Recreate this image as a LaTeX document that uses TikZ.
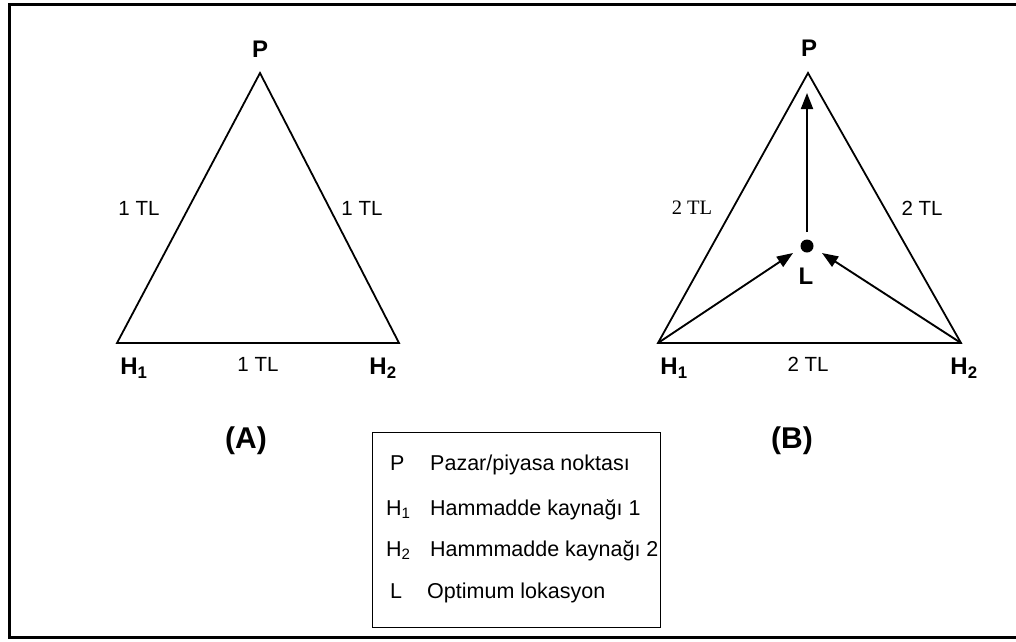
\documentclass[tikz,border=0pt]{standalone}
\usepackage{fontspec}
\setmainfont{Liberation Sans}
\newfontfamily\serifTL{Liberation Serif}
\usetikzlibrary{arrows.meta}
\tikzset{
  edge/.style={line width=1.8pt, line join=miter},
  flow/.style={line width=1.9pt, -{Triangle[length=16pt,width=12pt]}},
  lbl/.style={font=\fontsize{20.5}{24}\selectfont, inner sep=0pt},
  vlbl/.style={font=\fontsize{24}{28}\selectfont\bfseries, inner sep=0pt},
  figcap/.style={font=\fontsize{30}{34}\selectfont\bfseries, inner sep=0pt},
  leg/.style={font=\fontsize{21.5}{25}\selectfont, inner sep=0pt, anchor=base west},
}
\begin{document}
\begin{tikzpicture}[x=1pt,y=-1pt]
\useasboundingbox (0,0) rectangle (1016,641);
% outer frame
\draw[line width=3pt] (9,4) -- (1030,4) -- (1030,637) -- (9,637) -- cycle;

% Triangle A
\coordinate (AP) at (260,73);
\coordinate (AH1) at (117,343);
\coordinate (AH2) at (399,343);
\draw[edge] (AP) -- (AH1) -- (AH2) -- cycle;
\node[vlbl] (APl) at (260,49) {P};
\node[vlbl] (AH1l) at (134,368) {H\textsubscript{1}};
\node[vlbl] (AH2l) at (383,368) {H\textsubscript{2}};
\node[lbl] (Al1) at (139,208) {1 TL};
\node[lbl] (Al2) at (362,208) {1 TL};
\node[lbl] (Al3) at (258,364) {1 TL};
\node[figcap] (Acap) at (246,441) {(A)};

% Triangle B
\coordinate (BP) at (808,73);
\coordinate (BH1) at (658,343);
\coordinate (BH2) at (961,343);
\draw[edge] (BP) -- (BH1) -- (BH2) -- cycle;
\node[vlbl] (BPl) at (809,48) {P};
\node[vlbl] (BH1l) at (674,368) {H\textsubscript{1}};
\node[vlbl] (BH2l) at (964,368) {H\textsubscript{2}};
\node[lbl, font=\fontsize{20.5}{24}\serifTL] (Bl1) at (692,208) {2 TL};
\node[lbl] (Bl2) at (922,208) {2 TL};
\node[lbl] (Bl3) at (808,364) {2 TL};
\node[figcap] (Bcap) at (792,441) {(B)};
\node[circle, fill=black, inner sep=0pt, minimum size=13pt] (L) at (807,246) {};
\node[vlbl] (Ll) at (806,276) {L};
\coordinate (Ltop) at (807,232);
\coordinate (Pin) at (807,93);
\coordinate (Lw) at (793,253);
\coordinate (Le) at (822,253);
\draw[flow] (Ltop) -- (Pin);
\draw[flow] (BH1) -- (Lw);
\draw[flow] (BH2) -- (Le);

% Legend
\node[draw, line width=1pt, minimum width=288pt, minimum height=195pt, inner sep=0pt] (legbox) at (516,529.5) {};
\node[leg] (k1) at (390,470) {P};
\node[leg] (t1) at (430,470) {Pazar/piyasa noktası};
\node[leg] (k2) at (386,515) {H\textsubscript{1}};
\node[leg] (t2) at (430,515) {Hammadde kaynağı 1};
\node[leg] (k3) at (386,556) {H\textsubscript{2}};
\node[leg] (t3) at (430,556) {Hammmadde kaynağı 2};
\node[leg] (k4) at (390,598) {L};
\node[leg] (t4) at (427,598) {Optimum lokasyon};
\end{tikzpicture}
\end{document}
